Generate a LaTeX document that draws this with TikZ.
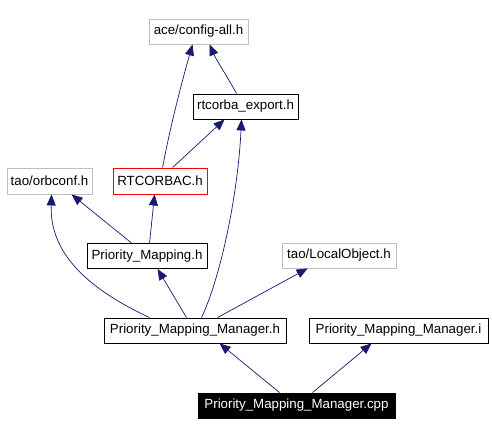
\documentclass[tikz,border=0pt]{standalone}
\usepackage{fontspec}
\setmainfont{Liberation Sans}
\usetikzlibrary{arrows.meta}
\definecolor{edgeblue}{HTML}{191970}
\definecolor{extgray}{HTML}{BFBFBF}
\tikzset{
  box/.style={draw=black, line width=0.9pt, rectangle, inner sep=0pt, minimum height=25pt, font=\fontsize{13.3}{15}\selectfont},
  extbox/.style={box, draw=extgray},
  redbox/.style={box, draw=red},
  mainbox/.style={box, fill=black, text=white},
  dep/.style={draw=edgeblue, line width=0.7pt, -{Triangle[length=11pt,width=9pt]}, color=edgeblue}
}
\begin{document}
\begin{tikzpicture}[x=1pt,y=-1pt]
\fill[white] (0,0) rectangle (492,435);
\useasboundingbox (0,0) rectangle (492,435);
\node[extbox, minimum width=99pt] (ace) at (198.5,31.5) {ace/config-all.h};
\node[box, minimum width=105pt] (rexp) at (245.5,106.5) {rtcorba\_export.h};
\node[redbox, minimum width=94pt, minimum height=26pt] (rtc) at (160,181) {RTCORBAC.h};
\node[extbox, minimum width=85pt, minimum height=26pt] (orb) at (49.5,181) {tao/orbconf.h};
\node[box, minimum width=120pt] (pm) at (147,256) {Priority\_Mapping.h};
\node[extbox, minimum width=114pt] (lo) at (339,255.5) {tao/LocalObject.h};
\node[box, minimum width=182pt] (pmmh) at (195,330.5) {Priority\_Mapping\_Manager.h};
\node[box, minimum width=179pt] (pmmi) at (398.5,330.5) {Priority\_Mapping\_Manager.i};
\node[mainbox, minimum width=197pt] (cpp) at (296.5,405.5) {Priority\_Mapping\_Manager.cpp};

\draw[dep] ([xshift=50pt]rtc.north west) .. controls +(9,-48) and +(-8,28) .. ([xshift=44pt]ace.south west);
\draw[dep] ([xshift=44pt]rexp.north west) .. controls +(-10,-18) and +(6,14) .. ([xshift=61pt]ace.south west);
\draw[dep] ([xshift=60pt]rtc.north west) -- ([xshift=32pt]rexp.south west);
\draw[dep] ([xshift=98pt]pmmh.north west) .. controls +(18,-38) and +(-4,80) .. ([xshift=49pt]rexp.south west);
\draw[dep] ([xshift=63pt]pm.north west) -- ([xshift=42pt]rtc.south west);
\draw[dep] ([xshift=45pt]pm.north west) -- ([xshift=65pt]orb.south west);
\draw[dep] ([xshift=46pt]pmmh.north west) .. controls +(-60,-28) and +(-2,60) .. ([xshift=45pt]orb.south west);
\draw[dep] ([xshift=83pt]pmmh.north west) -- ([xshift=71pt]pm.south west);
\draw[dep] ([xshift=114pt]pmmh.north west) -- ([xshift=26pt]lo.south west);
\draw[dep] ([xshift=82pt]cpp.north west) -- ([xshift=116pt]pmmh.south west);
\draw[dep] ([xshift=115pt]cpp.north west) -- ([xshift=63pt]pmmi.south west);
\end{tikzpicture}
\end{document}
